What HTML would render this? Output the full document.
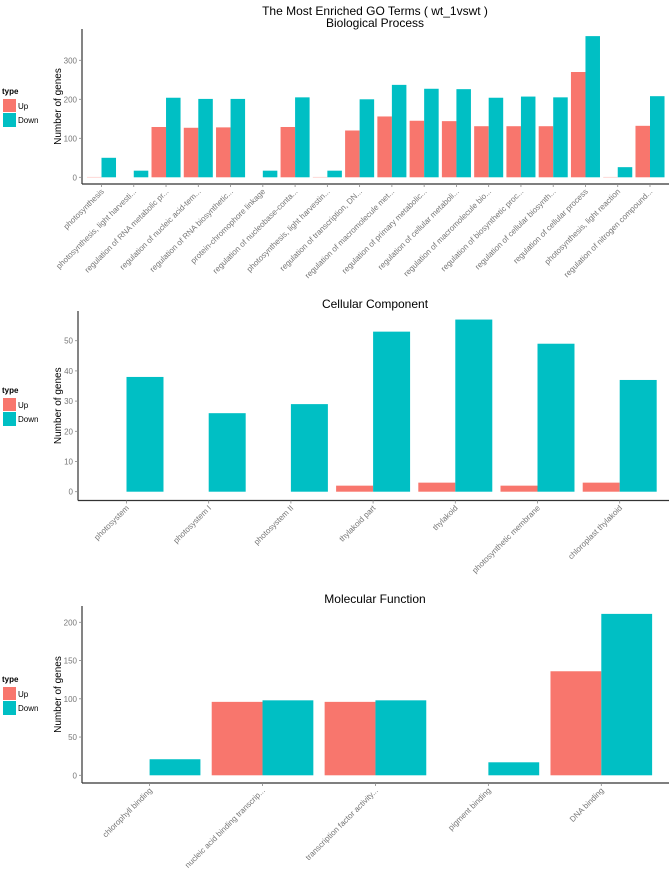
<!DOCTYPE html>
<html><head><meta charset="utf-8">
<style>
html,body{margin:0;padding:0;background:#fff;}
svg{display:block;font-family:"Liberation Sans",sans-serif;}
</style></head>
<body>
<svg id="chart" width="670" height="872" viewBox="0 0 670 872">
<text x="375" y="15" text-anchor="middle" font-size="12" fill="#000">The Most Enriched GO Terms ( wt_1vswt )</text>
</svg>
<script>
const bpCategories = ["photosynthesis","photosynthesis, light harvesti...","regulation of RNA metabolic pr...","regulation of nucleic acid-tem...","regulation of RNA biosynthetic...","protein-chromophore linkage","regulation of nucleobase-conta...","photosynthesis, light harvestin...","regulation of transcription, DN...","regulation of macromolecule met...","regulation of primary metabolic...","regulation of cellular metaboli...","regulation of macromolecule bio...","regulation of biosynthetic proc...","regulation of cellular biosynth...","regulation of cellular process","photosynthesis, light reaction","regulation of nitrogen compound..."];
const bpUp = [1,0,129,127,128,0,129,1,120,156,145,144,131,131,131,270,1,132];
const bpDown = [50,17,204,201,201,17,205,17,200,237,227,226,204,207,205,362,26,208];
const bpTicks = [0,100,200,300];

const ccCategories = ["photosystem","photosystem I","photosystem II","thylakoid part","thylakoid","photosynthetic membrane","chloroplast thylakoid"];
const ccUp = [0,0,0,2,3,2,3];
const ccDown = [38,26,29,53,57,49,37];
const ccTicks = [0,10,20,30,40,50];

const mfCategories = ["chlorophyll binding","nucleic acid binding transcrip...","transcription factor activity...","pigment binding","DNA binding"];
const mfUp = [0,96,96,0,136];
const mfDown = [21,98,98,17,211];
const mfTicks = [0,50,100,150,200];

const NS = "http://www.w3.org/2000/svg";
const svg = document.getElementById("chart");
function mk(tag, attrs, parent){
  const e = document.createElementNS(NS, tag);
  for (const k in attrs) e.setAttribute(k, attrs[k]);
  (parent||svg).appendChild(e);
  return e;
}

function panel(key, title, titleY, cats, up, down, ticks, L, R, top, axisY, y0, pxPerUnit, firstX, lastX, legendY){
  const g = mk("g", {});
  
  
  const n = cats.length;
  const step = n > 1 ? (lastX - firstX) / (n - 1) : 0;
  const xPos = i => firstX + i * step;
  const yPos = v => y0 - v * pxPerUnit;
  const half = step * 0.45;

  const t = mk("text", {x: 375, y: titleY, "text-anchor": "middle", "font-size": 12, fill: "#000"}, g);
  t.textContent = title;
  
  

  // bars
  for (let i = 0; i < n; i++) {
    const cx = xPos(i);
    if (up[i] > 0) {
      const r = mk("rect", {x: cx - half, y: yPos(up[i]), width: half, height: Math.max(0.8, up[i] * pxPerUnit), fill: "#F8766D", opacity: up[i] < 1.5 && pxPerUnit * up[i] < 2 ? 0.35 : 1}, g);
      
      
    }
    if (down[i] > 0) {
      const r = mk("rect", {x: cx, y: yPos(down[i]), width: half, height: down[i] * pxPerUnit, fill: "#00BFC4"}, g);
      
      
    }
  }
  // axes
  const ya = mk("line", {x1: L, y1: top, x2: L, y2: axisY, stroke: "#333", "stroke-width": 1.2}, g);
  
  
  const xa = mk("line", {x1: L, y1: axisY, x2: R, y2: axisY, stroke: "#333", "stroke-width": 1.2}, g);
  
  
  // y ticks
  ticks.forEach(v => {
    const y = yPos(v);
    mk("line", {x1: L - 3, y1: y, x2: L, y2: y, stroke: "#888", "stroke-width": 0.8}, g);
    const tl = mk("text", {x: L - 5, y: y + 3, "text-anchor": "end", "font-size": 8, fill: "#777"}, g);
    tl.textContent = v;
    
    
  });
  // x ticks & labels
  cats.forEach((c, i) => {
    const x = xPos(i);
    mk("line", {x1: x, y1: axisY, x2: x, y2: axisY + 3, stroke: "#888", "stroke-width": 0.8}, g);
    const tl = mk("text", {x: x + 3, y: axisY + 8, "text-anchor": "end", "font-size": 8, fill: "#777", transform: "rotate(-45 " + (x + 3) + " " + (axisY + 8) + ")"}, g);
    tl.textContent = c;
    
    
  });
  // y axis title
  const cy = (top + axisY) / 2;
  const yt = mk("text", {x: 61, y: cy, "text-anchor": "middle", "font-size": 10, fill: "#000", transform: "rotate(-90 61 " + cy + ")"}, g);
  yt.textContent = "Number of genes";
  
  
  // legend
  const lg = mk("g", {}, g);
  
  
  const lt = mk("text", {x: 2, y: legendY, "font-size": 8, "font-weight": "bold", fill: "#000"}, lg);
  lt.textContent = "type";
  const k1 = mk("rect", {x: 3, y: legendY + 5, width: 13, height: 13, fill: "#F8766D"}, lg);
  
  
  const t1 = mk("text", {x: 18, y: legendY + 15, "font-size": 8, fill: "#000"}, lg);
  t1.textContent = "Up";
  const k2 = mk("rect", {x: 3, y: legendY + 19, width: 13, height: 14, fill: "#00BFC4"}, lg);
  
  
  const t2 = mk("text", {x: 18, y: legendY + 29, "font-size": 8, fill: "#000"}, lg);
  t2.textContent = "Down";
}

panel("biological-process", "Biological Process", 27, bpCategories, bpUp, bpDown, bpTicks, 82, 669, 29, 184, 177.3, 0.39, 101.5, 650, 94);
panel("cellular-component", "Cellular Component", 308, ccCategories, ccUp, ccDown, ccTicks, 78, 669, 311, 500.5, 491.7, 3.02, 126.5, 619.7, 393);
panel("molecular-function", "Molecular Function", 603, mfCategories, mfUp, mfDown, mfTicks, 82, 669, 606, 783, 775.3, 0.765, 149.6, 601.3, 682);
</script>
</body></html>
